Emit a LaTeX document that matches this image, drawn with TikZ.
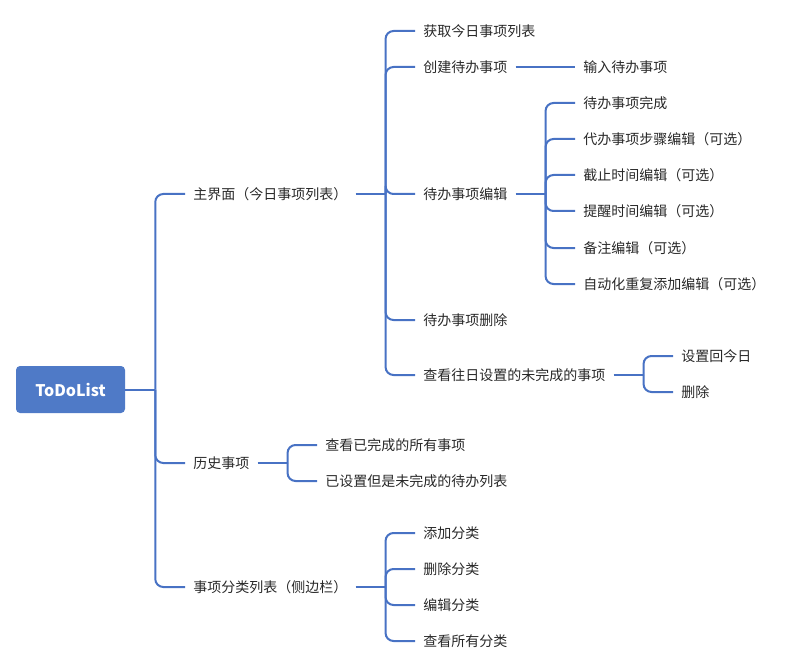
\documentclass[tikz,border=0pt]{standalone}
\usepackage{fontspec}
\setmainfont{Noto Sans CJK SC}
\usetikzlibrary{positioning}

\definecolor{rootblue}{RGB}{79,122,199}
\definecolor{lineblue}{RGB}{72,114,196}
\definecolor{textgray}{RGB}{40,40,40}

\begin{document}
\begin{tikzpicture}[x=0.75pt, y=-0.75pt]

  % Define mind map styles
  \tikzset{
    topic/.style={
      anchor=west, text=textgray, inner xsep=6pt, inner ysep=2pt,
      font=\fontsize{10.5}{12}\selectfont
    },
    root box/.style={
      fill=rootblue, rounded corners=3pt, text=white,
      minimum width=81.75pt, minimum height=35.25pt,
      font=\bfseries\fontsize{12}{14}\selectfont
    },
    branch/.style={draw=lineblue, line width=1.5pt, rounded corners=6pt},
  }

  \useasboundingbox (0,0) rectangle (795,670);

  % Root
  \node[root box] (root) at (70.5,389.5) {ToDoList};

  % First level
  \node[topic] (main) at (185,194) {主界面（今日事项列表）};
  \node[topic] (hist) at (185,463) {历史事项};
  \node[topic] (cat) at (185,587) {事项分类列表（侧边栏）};

  % Main view items
  \node[topic] (m1) at (415,31) {获取今日事项列表};
  \node[topic] (m2) at (415,67) {创建待办事项};
  \node[topic] (m3) at (415,194) {待办事项编辑};
  \node[topic] (m4) at (415,320) {待办事项删除};
  \node[topic] (m5) at (415,375) {查看往日设置的未完成的事项};

  \node[topic] (m2a) at (575,67) {输入待办事项};

  % Editing items
  \node[topic] (e1) at (575,103) {待办事项完成};
  \node[topic] (e2) at (575,139) {代办事项步骤编辑（可选）};
  \node[topic] (e3) at (575,175) {截止时间编辑（可选）};
  \node[topic] (e4) at (575,211) {提醒时间编辑（可选）};
  \node[topic] (e5) at (575,248) {备注编辑（可选）};
  \node[topic] (e6) at (575,284) {自动化重复添加编辑（可选）};

  % Past items
  \node[topic] (p1) at (673,356) {设置回今日};
  \node[topic] (p2) at (673,392) {删除};

  % History items
  \node[topic] (h1) at (317,445) {查看已完成的所有事项};
  \node[topic] (h2) at (317,481) {已设置但是未完成的待办列表};

  % Category items
  \node[topic] (c1) at (415,533) {添加分类};
  \node[topic] (c2) at (415,569) {删除分类};
  \node[topic] (c3) at (415,605) {编辑分类};
  \node[topic] (c4) at (415,641) {查看所有分类};

  % Bracket points
  \coordinate[right=22.5pt of root.east] (broot);
  \coordinate[right=22.5pt of main.east] (bmain);
  \coordinate[right=22.5pt of hist.east] (bhist);
  \coordinate[right=22.5pt of cat.east] (bcat);
  \coordinate[right=22.5pt of m3.east] (bedit);
  \coordinate[right=22.5pt of m5.east] (bpast);

  % Connectors
  \draw[branch] (root.east) -- (broot);
  \foreach \n in {main, hist, cat} \draw[branch] (broot) |- (\n.west);

  \draw[branch] (main.east) -- (bmain);
  \foreach \n in {m1, m2, m3, m4, m5} \draw[branch] (bmain) |- (\n.west);

  \draw[branch] (m2.east) -- (m2a.west);

  \draw[branch] (m3.east) -- (bedit);
  \foreach \n in {e1, e2, e3, e4, e5, e6} \draw[branch] (bedit) |- (\n.west);

  \draw[branch] (m5.east) -- (bpast);
  \foreach \n in {p1, p2} \draw[branch] (bpast) |- (\n.west);

  \draw[branch] (hist.east) -- (bhist);
  \foreach \n in {h1, h2} \draw[branch] (bhist) |- (\n.west);

  \draw[branch] (cat.east) -- (bcat);
  \foreach \n in {c1, c2, c3, c4} \draw[branch] (bcat) |- (\n.west);

\end{tikzpicture}
\end{document}
